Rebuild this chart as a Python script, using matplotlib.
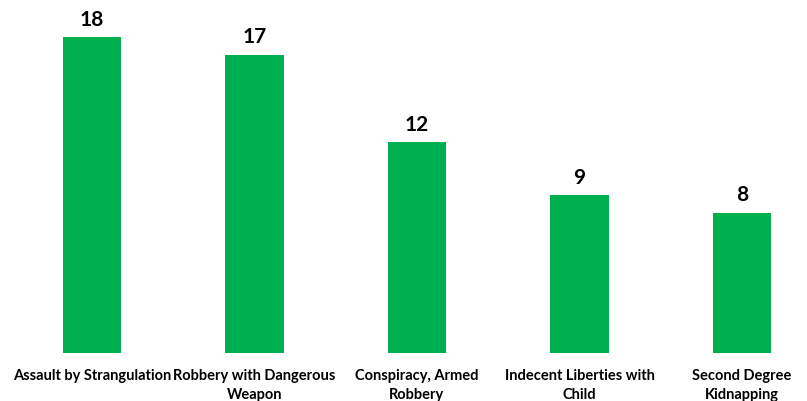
import matplotlib.pyplot as plt

categories = ['Assault by Strangulation', 'Robbery with Dangerous\nWeapon',
              'Conspiracy, Armed\nRobbery', 'Indecent Liberties with\nChild',
              'Second Degree\nKidnapping']
counts = [18, 17, 12, 9, 8]

plt.rcParams['font.family'] = ['Lato', 'DejaVu Sans']

fig = plt.figure(figsize=(8.07, 4.02), dpi=100)
# plot area in pixels: baseline at y=354 (from top), top at 0
ax = fig.add_axes([0, 48 / 402, 1, 354 / 402])

x = list(range(len(categories)))
bars = ax.bar(x, counts, width=0.36, color='#00B050')

unit = 162.5
ax.set_xlim(-92 / unit, (807 - 92) / unit)
ax.set_ylim(0, 354 / (316 / 18))

for b, v in zip(bars, counts):
    ax.annotate(str(v), (b.get_x() + b.get_width() / 2, v), xytext=(0, 6),
                textcoords='offset points', ha='center', va='bottom',
                fontsize=15, fontweight='bold')

ax.set_xticks(x)
ax.set_xticklabels(categories, fontsize=10.5, fontweight='bold', linespacing=1.45)
ax.tick_params(axis='x', length=0, pad=11)
ax.set_yticks([])
for s in ax.spines.values():
    s.set_visible(False)

fig.savefig('out.png', dpi=100)
